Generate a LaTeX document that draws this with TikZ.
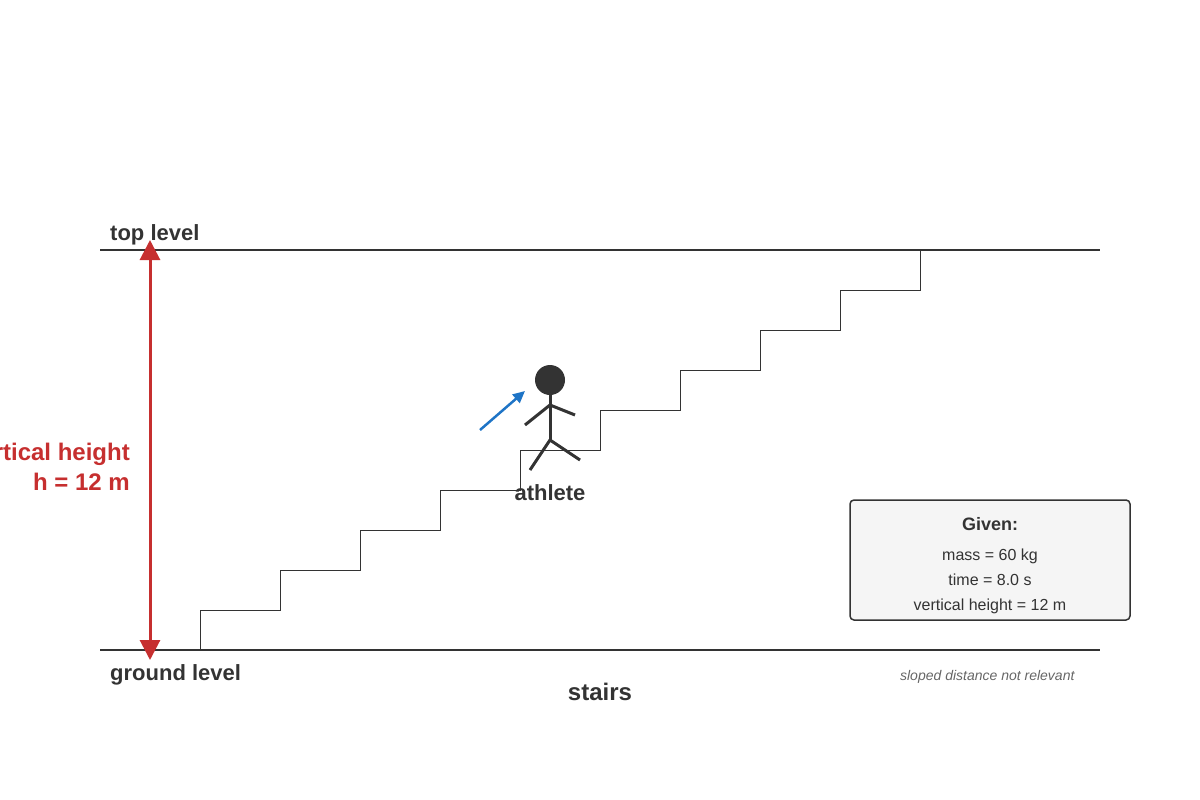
\documentclass[tikz,border=0pt]{standalone}
\usepackage{fontspec}
\setmainfont{Liberation Sans}
\usetikzlibrary{arrows.meta,positioning}
\definecolor{ink}{HTML}{333333}
\definecolor{hred}{HTML}{C62F2F}
\definecolor{hblue}{HTML}{1E74C6}
\tikzset{
  level/.style={draw=ink,line width=1.5pt},
  stair/.style={draw=ink,line width=1pt},
  lbl/.style={text=ink,font=\bfseries\fontsize{22}{26}\selectfont,inner sep=0pt},
  limb/.style={draw=ink,line width=3pt}
}
\begin{document}
\begin{tikzpicture}[x=1pt,y=-1pt]
\useasboundingbox (0,0) rectangle (1200,800);
% levels
\coordinate (tl) at (100,250); \coordinate (tr) at (1100,250);
\coordinate (gl) at (100,650); \coordinate (gr) at (1100,650);
\draw[level] (tl) -- (tr);
\draw[level] (gl) -- (gr);
\node[lbl,anchor=base west] (top) at (110,240) {top level};
\node[lbl,anchor=base west] (ground) at (110,680) {ground level};
\node[lbl,font=\bfseries\fontsize{24}{28}\selectfont,anchor=base] (stairs) at (600,700) {stairs};
% stairs
\draw[stair] (200,650) \foreach \i in {0,...,9} { -- ++(0,-40) -- ++(80,0) };
% height
\coordinate (hb) at (150,660); \coordinate (ht) at (150,240);
\draw[hred,line width=3pt,{Triangle[length=20pt,width=20pt]}-{Triangle[length=20pt,width=20pt]}] (hb) -- (ht);
\node[text=hred,font=\bfseries\fontsize{24}{30}\selectfont,align=right,anchor=east,inner sep=0pt] (hlab) at (130,467) {vertical height\\h = 12 m};
% athlete
\fill[ink] (550,380) circle (15);
\draw[limb] (550,395) -- (550,440);
\draw[limb] (525,425) -- (550,405) -- (575,415);
\draw[limb] (530,470) -- (550,440) -- (580,460);
\coordinate (ma) at (480,430); \coordinate (mb) at (525,391);
\draw[hblue,line width=2.5pt,-{Triangle[length=12pt,width=11pt]}] (ma) -- (mb);
\node[lbl,anchor=base] (athlete) at (550,500) {athlete};
% given
\draw[draw=ink,fill=black!4,line width=1.5pt,rounded corners=4pt] (850,500) rectangle (1130,620);
\node[text=ink,font=\bfseries\fontsize{18}{22}\selectfont,anchor=base] (given) at (990,530) {Given:};
\node[text=ink,font=\fontsize{16}{20}\selectfont,anchor=base] (mass) at (990,560) {mass = 60 kg};
\node[text=ink,font=\fontsize{16}{20}\selectfont,anchor=base] (time) at (990,585) {time = 8.0 s};
\node[text=ink,font=\fontsize{16}{20}\selectfont,anchor=base] (vh) at (990,610) {vertical height = 12 m};
\node[text=black!60,font=\itshape\fontsize{14}{18}\selectfont,anchor=base east] (note) at (1078,680) {sloped distance not relevant};
\end{tikzpicture}
\end{document}
